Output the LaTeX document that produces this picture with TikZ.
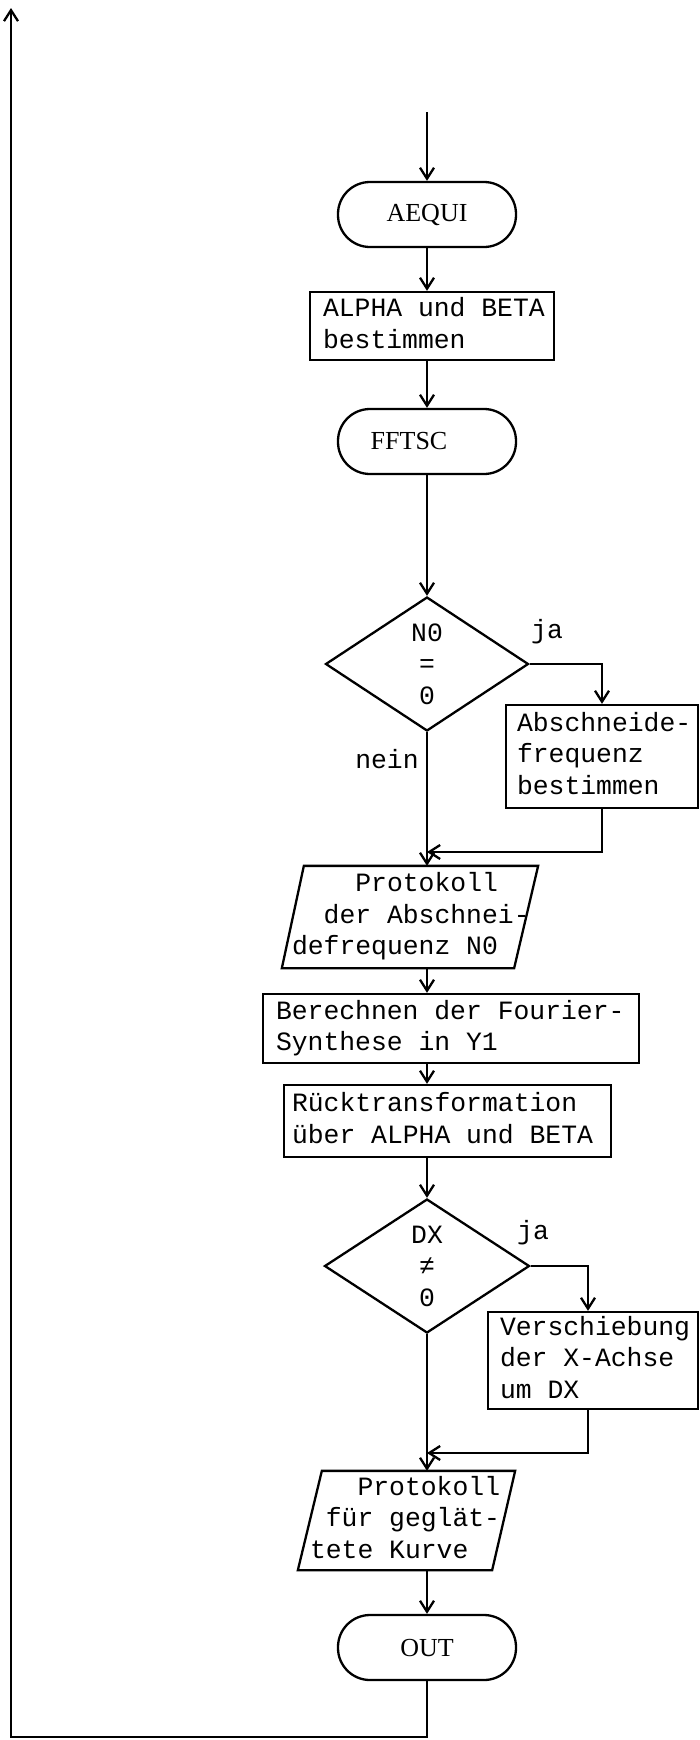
\documentclass[tikz,border=0pt]{standalone}
\usepackage{fontspec}
\newfontfamily\monof{Liberation Mono}
\newfontfamily\seriff{Liberation Serif}
\usetikzlibrary{arrows.meta,shapes.geometric}
\newcommand{\tb}[1]{\begin{tabular}{@{}l@{}}#1\end{tabular}}
\newcommand{\ms}{\phantom{0}}
\newcommand{\monosize}{\monof\fontsize{26.4}{31.5}\selectfont}
\begin{document}
\begin{tikzpicture}[x=1pt,y=-1pt,
  line width=2.3pt,
  txt/.style={font=\monosize},
  procbox/.style={txt,draw,rectangle,align=left,inner ysep=0pt},
  term/.style={draw,rounded corners=32pt,minimum width=178pt,minimum height=65pt,inner sep=0pt,font=\seriff\fontsize{26}{30}\selectfont},
  decision/.style={txt,draw,diamond,inner sep=0pt,align=center},
  ioshape/.style={txt,rectangle,align=left,inner ysep=0pt},
  arr/.style={-{Straight Barb[length=11pt,width=14pt]}},
]
\useasboundingbox (0,0) rectangle (700,1740);

% nodes
\coordinate (in) at (427,112);
\node[term] (A) at (427,214.5) {AEQUI};
\node[procbox,text width=218pt,inner xsep=13pt,minimum height=68pt] (B) at (432,326)
  {\tb{ALPHA\ms und\ms BETA\\bestimmen}};
\node[term] (F) at (427,441.5) {FFTSC\hspace*{36pt}};
\node[decision,minimum width=203pt,minimum height=134pt,aspect=1.515] (D1) at (427,664) {N0\\=\\0};
\node[txt] (ja1) at (547,632) {ja};
\node[txt] (nein) at (387,759) {nein};
\node[procbox,text width=170pt,inner xsep=11pt,minimum height=103pt] (C) at (602,756.5)
  {\tb{Abschneide-\\frequenz\\bestimmen}};
\coordinate (m1) at (427,852);
\node[ioshape,text width=236pt,inner xsep=9pt,minimum height=100pt] (P1) at (410,917)
  {\tb{\phantom{0000}Protokoll\\\phantom{00}der\ms Abschnei-\\defrequenz\ms N0}};
\draw ([xshift=22pt]P1.north west) -- (P1.north east) -- ([xshift=-24pt]P1.south east) -- (P1.south west) -- cycle;
\node[procbox,text width=350pt,inner xsep=13pt,minimum height=69pt] (E) at (451,1028.5)
  {\tb{Berechnen\ms der\ms Fourier-\\Synthese\ms in\ms Y1}};
\node[procbox,text width=311pt,inner xsep=8pt,minimum height=72pt] (R) at (447.5,1121)
  {\tb{Rücktransformation\\über\ms ALPHA\ms und\ms BETA}};
\node[decision,minimum width=205pt,minimum height=134pt,aspect=1.53] (D2) at (427,1266) {DX\\≠\\0};
\node[txt] (ja2) at (533,1233) {ja};
\node[procbox,text width=186pt,inner xsep=12pt,minimum height=97pt] (V) at (593,1360.5)
  {\tb{Verschiebung\\der\ms X-Achse\\um\ms DX}};
\coordinate (m2) at (427,1453);
\node[ioshape,text width=193pt,inner xsep=11pt,minimum height=97pt] (P2) at (406.5,1520.5)
  {\tb{\phantom{000}Protokoll\\\phantom{0}für\ms geglät-\\tete\ms Kurve}};
\draw ([xshift=24pt]P2.north west) -- (P2.north east) -- ([xshift=-23pt]P2.south east) -- (P2.south west) -- cycle;
\node[term] (O) at (427,1647.5) {OUT};
\coordinate (lb) at (11,1737);
\coordinate (lt) at (11,8);

% connectors
\draw[arr] (in) -- (A.north);
\draw[arr] (A.south) -- (A.south |- B.north);
\draw[arr] (F.north |- B.south) -- (F.north);
\draw[arr] (F.south) -- (D1.north);
\draw[arr] (D1.east) -- (D1.east -| C.north) -- (C.north);
\draw[arr] (D1.south) -- (D1.south |- P1.north);
\draw[arr] (C.south) -- (C.south |- m1) -- (m1);
\draw[arr] (D1.south |- P1.south) -- (D1.south |- E.north);
\draw[arr] (D1.south |- E.south) -- (D1.south |- R.north);
\draw[arr] (D2.north |- R.south) -- (D2.north);
\draw[arr] (D2.east) -- ([xshift=-5pt]D2.east -| V.north) -- ([xshift=-5pt]V.north);
\draw[arr] (D2.south) -- (D2.south |- P2.north);
\draw[arr] ([xshift=-5pt]V.south) -- ([xshift=-5pt]V.south |- m2) -- (m2);
\draw[arr] (O.north |- P2.south) -- (O.north);
\draw[arr] (O.south) -- (O.south |- lb) -- (lb) -- (lt);
\end{tikzpicture}
\end{document}
